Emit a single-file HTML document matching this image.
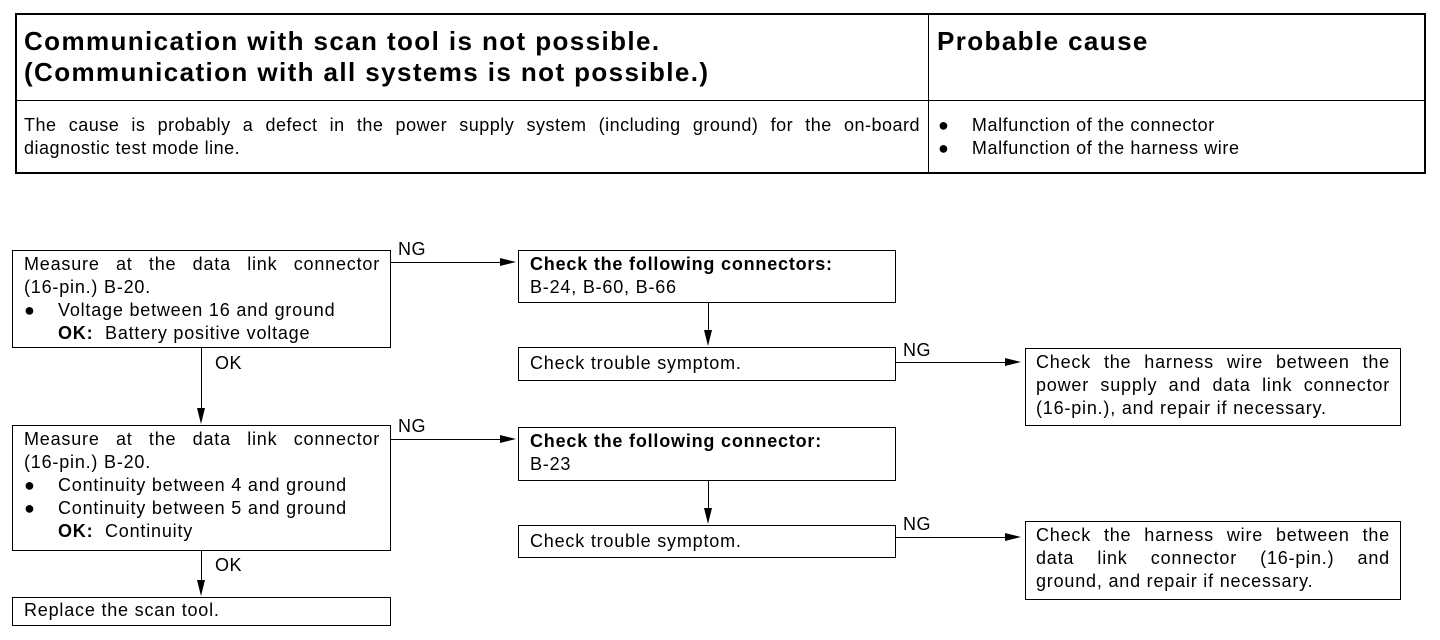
<!DOCTYPE html>
<html><head><meta charset="utf-8"><style>
body{margin:0;width:1440px;height:640px;background:#fff;position:relative;font-family:"Liberation Sans",Arial,sans-serif;color:#000;overflow:hidden}
.a{position:absolute}
.box{position:absolute;border:1px solid #000;box-sizing:border-box;font-size:18px;letter-spacing:0.8px;line-height:23px;padding:2px 10px 0 11px}
.j{text-align:justify;text-align-last:justify}
.bl{display:flex}
.bl .d{width:34px;flex:none}
.bl .t{flex:1}
.hl{position:absolute;height:1px;background:#000}
.vl{position:absolute;width:1px;background:#000}
.ar{position:absolute;width:0;height:0;border-top:4px solid transparent;border-bottom:4px solid transparent;border-left:16px solid #000}
.ad{position:absolute;width:0;height:0;border-left:4px solid transparent;border-right:4px solid transparent;border-top:16px solid #000}
.lb{position:absolute;font-size:18px;letter-spacing:0.5px}
b{font-weight:bold}
</style></head><body>
<div class="a" style="left:15px;top:13px;width:1411px;height:161px;border:2px solid #000;box-sizing:border-box"></div>
<div class="vl" style="left:928px;top:13px;height:160px"></div>
<div class="hl" style="left:15px;top:100px;width:1410px"></div>
<div class="a" style="left:24px;top:26px;font-size:26px;letter-spacing:1.4px;font-weight:bold;line-height:31px">Communication with scan tool is not possible.<br>(Communication with all systems is not possible.)</div>
<div class="a" style="left:937px;top:26px;font-size:26px;letter-spacing:1.4px;font-weight:bold;line-height:31px">Probable cause</div>
<div class="a" style="left:24px;top:114px;width:896px;font-size:18px;letter-spacing:0.5px;line-height:23px"><div class="j">The cause is probably a defect in the power supply system (including ground) for the on-board</div>diagnostic test mode line.</div>
<div class="a" style="left:938px;top:114px;font-size:18px;letter-spacing:0.6px;line-height:23px">●&nbsp;&nbsp;&nbsp;&nbsp;Malfunction of the connector<br>●&nbsp;&nbsp;&nbsp;&nbsp;Malfunction of the harness wire</div>

<div class="box" style="left:12px;top:250px;width:379px;height:98px">
<div class="j">Measure at the data link connector</div>
(16-pin.) B-20.<br>
<div class="bl"><span class="d">●</span><span class="t">Voltage between 16 and ground</span></div>
<span style="padding-left:34px"><b>OK:</b>&nbsp;&nbsp;Battery positive voltage</span></div>

<div class="box" style="left:12px;top:425px;width:379px;height:126px">
<div class="j">Measure at the data link connector</div>
(16-pin.) B-20.<br>
<div class="bl"><span class="d">●</span><span class="t">Continuity between 4 and ground</span></div>
<div class="bl"><span class="d">●</span><span class="t">Continuity between 5 and ground</span></div>
<span style="padding-left:34px"><b>OK:</b>&nbsp;&nbsp;Continuity</span></div>

<div class="box" style="left:12px;top:597px;width:379px;height:29px;padding-top:1px">Replace the scan tool.</div>

<div class="box" style="left:518px;top:250px;width:378px;height:53px"><b>Check the following connectors:</b><br>B-24, B-60, B-66</div>
<div class="box" style="left:518px;top:347px;width:378px;height:34px;padding-top:4px">Check trouble symptom.</div>
<div class="box" style="left:518px;top:427px;width:378px;height:54px"><b>Check the following connector:</b><br>B-23</div>
<div class="box" style="left:518px;top:525px;width:378px;height:33px;padding-top:4px">Check trouble symptom.</div>

<div class="box" style="left:1025px;top:348px;width:376px;height:78px;padding-left:10px;padding-right:10px">
<div class="j">Check the harness wire between the</div>
<div class="j">power supply and data link connector</div>
(16-pin.), and repair if necessary.</div>
<div class="box" style="left:1025px;top:521px;width:376px;height:79px;padding-left:10px;padding-right:10px">
<div class="j">Check the harness wire between the</div>
<div class="j">data link connector (16-pin.) and</div>
ground, and repair if necessary.</div>

<div class="hl" style="left:391px;top:262px;width:112px"></div><div class="ar" style="left:500px;top:258px"></div>
<div class="lb" style="left:398px;top:239px">NG</div>
<div class="hl" style="left:391px;top:439px;width:112px"></div><div class="ar" style="left:500px;top:435px"></div>
<div class="lb" style="left:398px;top:416px">NG</div>
<div class="hl" style="left:896px;top:362px;width:114px"></div><div class="ar" style="left:1005px;top:358px"></div>
<div class="lb" style="left:903px;top:340px">NG</div>
<div class="hl" style="left:896px;top:537px;width:114px"></div><div class="ar" style="left:1005px;top:533px"></div>
<div class="lb" style="left:903px;top:514px">NG</div>

<div class="vl" style="left:201px;top:348px;height:64px"></div><div class="ad" style="left:197px;top:408px"></div>
<div class="lb" style="left:215px;top:353px">OK</div>
<div class="vl" style="left:201px;top:551px;height:34px"></div><div class="ad" style="left:197px;top:580px"></div>
<div class="lb" style="left:215px;top:555px">OK</div>
<div class="vl" style="left:708px;top:303px;height:32px"></div><div class="ad" style="left:704px;top:330px"></div>
<div class="vl" style="left:708px;top:481px;height:32px"></div><div class="ad" style="left:704px;top:508px"></div>
</body></html>
